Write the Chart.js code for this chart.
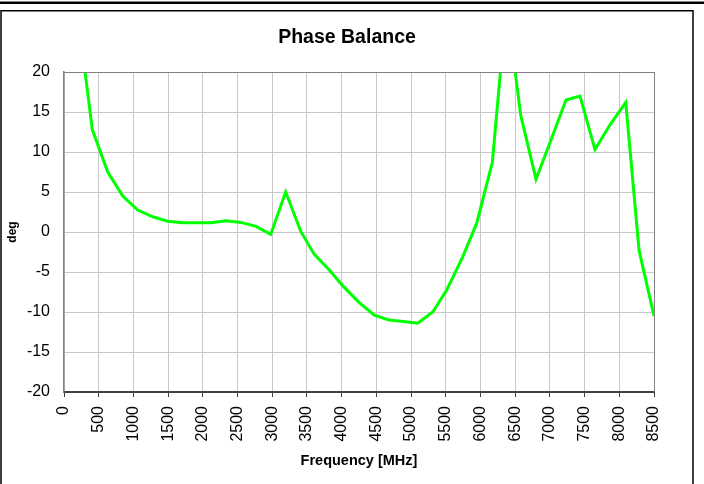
<!DOCTYPE html>
<html>
<head>
<meta charset="utf-8">
<script src="https://cdn.jsdelivr.net/npm/chart.js@4"></script>
<style>
  html, body { margin: 0; padding: 0; background: #fff; }
  canvas { display: block; }
</style>
</head>
<body>
<canvas id="c" width="704" height="484"></canvas>
<script>
// ---- data ----
const freqMHz = [195, 408, 630, 846, 1062, 1278, 1494, 1710, 1926, 2118, 2334, 2550, 2766, 2978, 3194, 3410, 3606, 3822, 4024, 4250, 4470, 4682, 4888, 5096, 5312, 5514, 5744, 5946, 6171, 6375, 6580, 6800, 7016, 7232, 7434, 7650, 7866, 8093, 8285, 8500];
const phaseDeg = [27.5, 12.8, 7.5, 4.5, 2.75, 1.9, 1.35, 1.15, 1.15, 1.15, 1.4, 1.2, 0.7, -0.3, 5.0, 0.1, -2.8, -4.75, -6.8, -8.8, -10.4, -11.0, -11.2, -11.4, -10.0, -7.25, -3.1, 1.1, 8.7, 28.5, 14.6, 6.6, 11.5, 16.5, 17.0, 10.3, 13.4, 16.2, -2.3, -10.5];
const xTicks = [0, 500, 1000, 1500, 2000, 2500, 3000, 3500, 4000, 4500, 5000, 5500, 6000, 6500, 7000, 7500, 8000, 8500];
const yTicks = [-20, -15, -10, -5, 0, 5, 10, 15, 20];
const chartTitle = 'Phase Balance';
const xTitle = 'Frequency [MHz]';
const yTitle = 'deg';

const points = freqMHz.map((f, i) => ({ x: f, y: phaseDeg[i] }));
const FONT = "'Liberation Sans', Arial, sans-serif";

const framePlugin = {
  id: 'frame',
  beforeDraw(chart) {
    const ctx = chart.ctx;
    ctx.save();
    ctx.fillStyle = '#fff';
    ctx.fillRect(0, 0, chart.width, chart.height);
    ctx.strokeStyle = '#000';
    ctx.lineWidth = 2.5;
    ctx.beginPath();
    ctx.moveTo(0, 2.75); ctx.lineTo(chart.width, 2.75);
    ctx.stroke();
    ctx.lineWidth = 1.5;
    ctx.beginPath();
    ctx.moveTo(1, chart.height + 5);
    ctx.lineTo(1, 10.75);
    ctx.lineTo(693, 10.75);
    ctx.lineTo(693, chart.height + 5);
    ctx.stroke();
    ctx.restore();
  },
  afterDatasetsDraw(chart) {
    const a = chart.chartArea, ctx = chart.ctx;
    ctx.save();
    ctx.strokeStyle = '#808080';
    ctx.lineWidth = 1;
    ctx.beginPath();
    ctx.moveTo(a.left, a.top + 0.5); ctx.lineTo(a.right + 0.5, a.top + 0.5); ctx.lineTo(a.right + 0.5, a.bottom);
    ctx.stroke();
    ctx.restore();
  }
};

new Chart(document.getElementById('c'), {
  type: 'line',
  data: {
    datasets: [{
      data: points,
      borderColor: '#00ff00',
      borderWidth: 3,
      pointRadius: 0,
      tension: 0,
      fill: false
    }]
  },
  options: {
    responsive: false,
    animation: false,
    devicePixelRatio: 1,
    layout: { padding: { left: 0, right: 10, top: 0, bottom: 0 } },
    plugins: {
      legend: { display: false },
      tooltip: { enabled: false },
      title: {
        display: true,
        text: chartTitle,
        color: '#000',
        font: { family: FONT, size: 19.5, weight: 'bold', lineHeight: 1.2 },
        padding: { top: 25.8, bottom: 22.8 }
      }
    },
    scales: {
      x: {
        type: 'linear',
        min: 0, max: 8500,
        afterBuildTicks(scale) { scale.ticks = xTicks.map(v => ({ value: v })); },
        afterFit(scale) { scale.height = 92; },
        grid: {
          color: '#c8c8c8',
          lineWidth: 1,
          drawTicks: true,
          tickLength: 5,
          tickColor: '#404040'
        },
        border: { color: '#404040', width: 2 },
        ticks: {
          autoSkip: false,
          minRotation: 90,
          maxRotation: 90,
          padding: 9,
          color: '#000',
          font: { family: FONT, size: 16 },
          callback: v => String(v)
        },
        title: {
          display: true,
          text: xTitle,
          color: '#000',
          font: { family: FONT, size: 14.5, weight: 'bold', lineHeight: 1.2 },
          padding: { top: 0, bottom: 14.3 }
        }
      },
      y: {
        min: -20, max: 20,
        afterBuildTicks(scale) { scale.ticks = yTicks.map(v => ({ value: v })); },
        afterFit(scale) { scale.width = 64; },
        grid: {
          color: '#c8c8c8',
          lineWidth: 1,
          drawTicks: false
        },
        border: { color: '#808080', width: 1.5 },
        ticks: {
          padding: 14,
          color: '#000',
          font: { family: FONT, size: 16 },
          callback: v => String(v)
        },
        title: {
          display: true,
          text: yTitle,
          color: '#000',
          font: { family: FONT, size: 12, weight: 'bold', lineHeight: 1.2 },
          padding: { top: 5.3, bottom: 0 }
        }
      },
      yRightSpace: {
        position: 'right',
        display: true,
        afterFit(scale) { scale.width = 40; },
        grid: { display: false, drawOnChartArea: false, drawTicks: false },
        border: { display: false },
        ticks: { display: false }
      }
    }
  },
  plugins: [framePlugin]
});
</script>
</body>
</html>
